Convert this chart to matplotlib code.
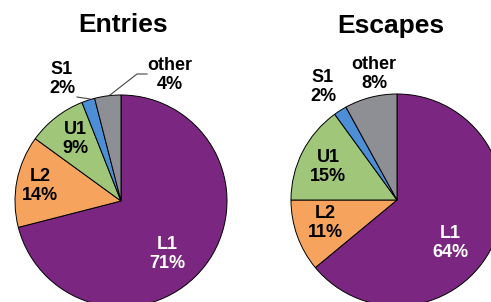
import matplotlib
matplotlib.use("Agg")
import matplotlib.pyplot as plt

# data
categories = ["L1", "L2", "U1", "S1", "other"]
entries = [71, 14, 9, 2, 4]
escapes = [64, 11, 15, 2, 8]
colors = ["#7b2782", "#f6a35e", "#9fc679", "#4d8fd6", "#8d8f94"]
label_colors = ["white", "black", "black", "black", "black"]

W, H = 491, 302

# layout (pixels from top-left)
entries_center = (121, 201)
escapes_center = (397, 200)
radius = 106
entries_label_pos = [(167, 254), (40, 186), (75, 139), (62, 79), (170, 75)]
escapes_label_pos = [(450, 243), (325, 223), (328, 167), (323, 87), (374, 74)]

plt.rcParams['font.family'] = ['Liberation Sans', 'DejaVu Sans']

fig = plt.figure(figsize=(W / 100, H / 100), dpi=100)
ax = fig.add_axes([0, 0, 1, 1])


def draw_pie(values, center, label_pos, title, title_pos):
    cx, cy = center
    ax.pie(values, colors=colors, startangle=90, counterclock=False,
           center=(cx, H - cy), radius=radius, frame=True,
           wedgeprops=dict(edgecolor='black', linewidth=0.7))
    for name, v, (x, y), c in zip(categories, values, label_pos, label_colors):
        ax.text(x, H - y, f"{name}\n{v}%", ha='center', va='center',
                fontsize=13, fontweight='bold', color=c, linespacing=1.15)
    ax.text(title_pos[0], H - title_pos[1], title, ha='center', va='center',
            fontsize=19, fontweight='bold')


draw_pie(entries, entries_center, entries_label_pos, "Entries", (123, 25))
draw_pie(escapes, escapes_center, escapes_label_pos, "Escapes", (391, 26))

# leader lines for small slices on the Entries pie
ax.plot([77, 90], [H - 97, H - 99], color='#444444', lw=0.8)
ax.plot([110, 137, 147], [H - 95, H - 74, H - 74], color='#444444', lw=0.8)

ax.set_xlim(0, W)
ax.set_ylim(0, H)
ax.set_aspect('equal')
ax.axis('off')

fig.savefig("out.png", dpi=100)
